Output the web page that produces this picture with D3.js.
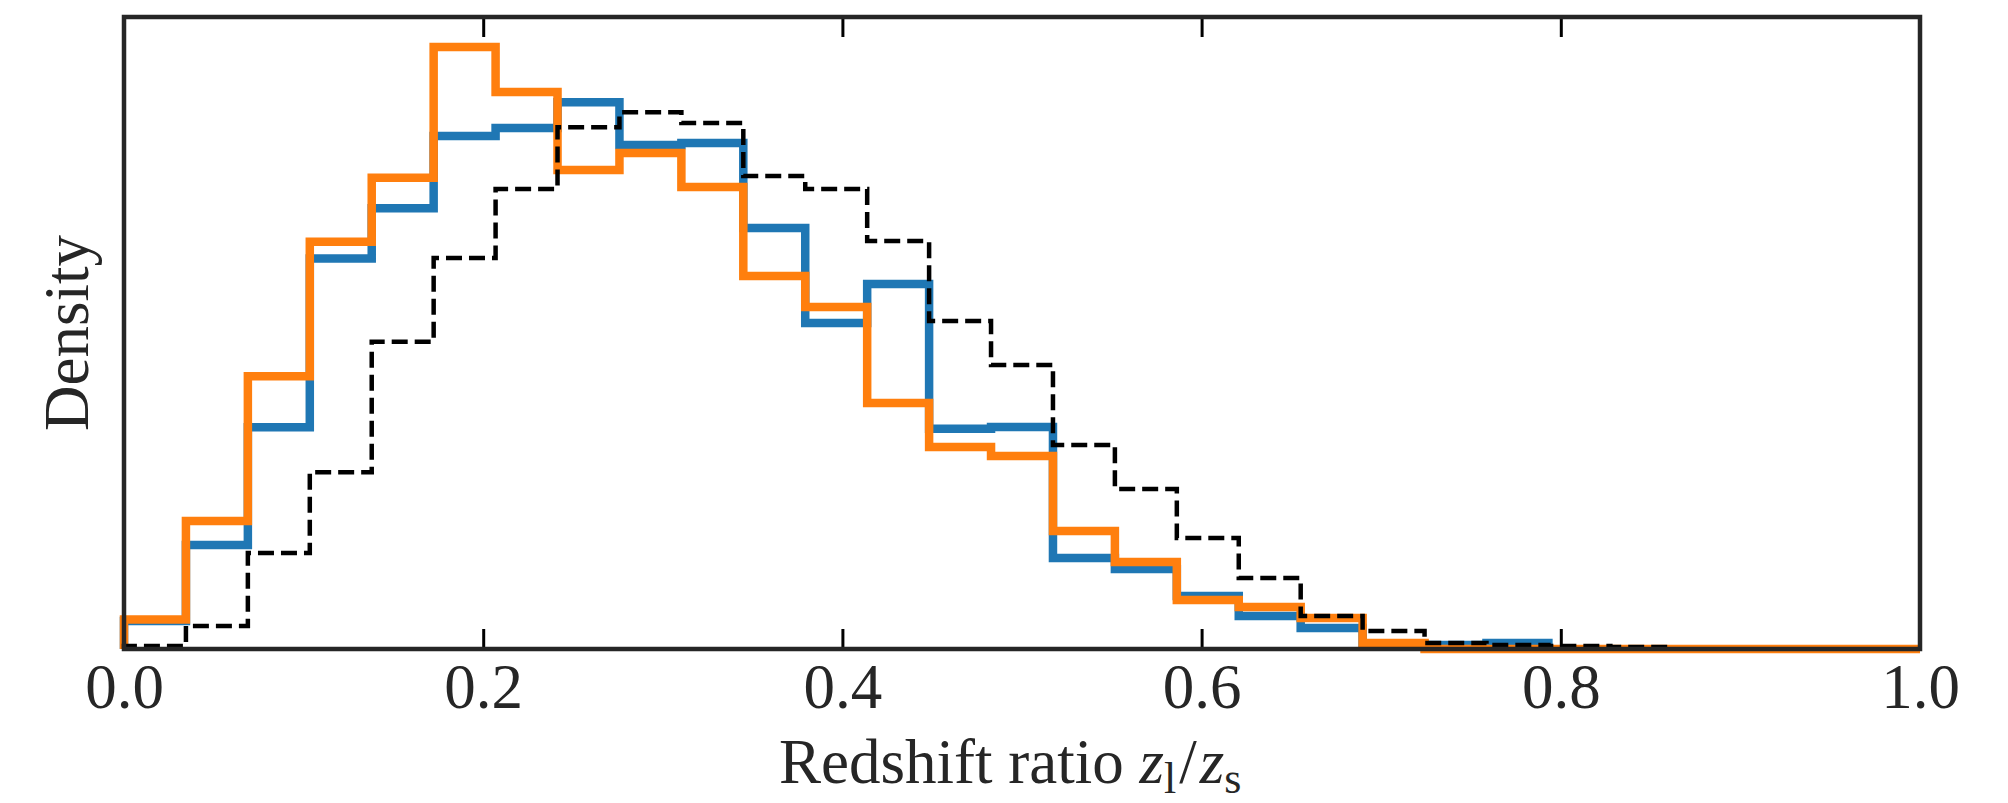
<!DOCTYPE html>
<html>
<head>
<meta charset="utf-8">
<script src="https://cdn.jsdelivr.net/npm/d3@7"></script>
<style>
  body { margin: 0; background: #ffffff; }
  svg text { font-family: "Liberation Serif", "DejaVu Serif", serif; fill: #262626; }
</style>
</head>
<body>
<svg id="chart" width="2008" height="803"></svg>
<script>
// histogram bins: 29 equal bins on [0, 1]
const nBins = 29;
const xTicks = [0.0, 0.2, 0.4, 0.6, 0.8, 1.0];

// density per bin
const blueDensity = [0.145, 0.540, 1.152, 2.030, 2.291, 2.666, 2.707, 2.842, 2.619, 2.629,
  2.188, 1.694, 1.897, 1.145, 1.154, 0.473, 0.416, 0.275, 0.171, 0.109,
  0.026, 0.021, 0.031];
const orangeDensity = [0.153, 0.665, 1.417, 2.116, 2.449, 3.128, 2.894, 2.489, 2.577, 2.401,
  1.938, 1.777, 1.278, 1.050, 1.003, 0.613, 0.452, 0.255, 0.218, 0.161,
  0.031, 0, 0, 0, 0, 0, 0, 0, 0];
const dashedDensity = [0.016, 0.120, 0.499, 0.919, 1.597, 2.032, 2.390, 2.712, 2.790, 2.733,
  2.458, 2.390, 2.120, 1.704, 1.476, 1.060, 0.831, 0.577, 0.369, 0.171,
  0.094, 0.031, 0.021, 0.016, 0.010];

const svg = d3.select("#chart");
const margin = {left: 124, right: 88, top: 17, bottom: 154};
const width = 2008, height = 803;

const x = d3.scaleLinear().domain([0, 1]).range([margin.left, width - margin.right]);
const yMax = d3.max([blueDensity, orangeDensity, dashedDensity].flat()) * 1.05;
const y = d3.scaleLinear().domain([0, yMax]).range([height - margin.bottom, margin.top]);

// build step outline like matplotlib histtype="step"
function stepPoints(vals) {
  const pts = [[0, 0]];
  vals.forEach((v, i) => {
    pts.push([i / nBins, v]);
    pts.push([(i + 1) / nBins, v]);
  });
  pts.push([vals.length / nBins, 0]);
  return pts;
}

const line = d3.line().x(d => x(d[0])).y(d => y(d[1]));

const series = [
  {vals: blueDensity, color: "#1f77b4", w: 8.5, dash: null},
  {vals: orangeDensity, color: "#ff7f0e", w: 8.5, dash: null},
  {vals: dashedDensity, color: "#000000", w: 4.5, dash: "16,7"}
];

svg.append("g").selectAll("path")
  .data(series)
  .join("path")
  .attr("d", d => line(stepPoints(d.vals)))
  .attr("fill", "none")
  .attr("stroke", d => d.color)
  .attr("stroke-width", d => d.w)
  .attr("stroke-linejoin", "miter")
  .attr("stroke-linecap", "butt")
  .attr("stroke-dasharray", d => d.dash);

// inward ticks on bottom and top
const tickLen = 20;
const xAxisBottom = d3.axisBottom(x).tickValues(xTicks).tickSizeInner(-tickLen).tickSizeOuter(0)
  .tickPadding(14).tickFormat(d3.format(".1f"));
const gb = svg.append("g")
  .attr("transform", `translate(0,${y(0)})`)
  .call(xAxisBottom);
gb.select(".domain").remove();
gb.selectAll(".tick line").attr("stroke", "#000").attr("stroke-width", 3);
gb.selectAll(".tick text")
  .attr("font-size", 63)
  .attr("font-family", "Liberation Serif")
  .attr("fill", "#262626");

const xAxisTop = d3.axisTop(x).tickValues(xTicks).tickSizeInner(-tickLen).tickSizeOuter(0).tickFormat("");
const gt = svg.append("g")
  .attr("transform", `translate(0,${y(yMax)})`)
  .call(xAxisTop);
gt.select(".domain").remove();
gt.selectAll(".tick line").attr("stroke", "#000").attr("stroke-width", 3);

// frame
svg.append("rect")
  .attr("x", x(0)).attr("y", y(yMax))
  .attr("width", x(1) - x(0)).attr("height", y(0) - y(yMax))
  .attr("fill", "none")
  .attr("stroke", "#262626")
  .attr("stroke-width", 4.5);

// axis labels
const xl = svg.append("text")
  .attr("x", 779).attr("y", 783)
  .attr("font-size", 63);
xl.append("tspan").text("Redshift ratio ");
xl.append("tspan").attr("font-style", "italic").text("z");
xl.append("tspan").attr("font-size", 44).attr("dy", 10).text("l");
xl.append("tspan").attr("dy", -10).attr("dx", 3).text("/");
xl.append("tspan").attr("font-style", "italic").attr("dx", 3).text("z");
xl.append("tspan").attr("font-size", 44).attr("dy", 10).text("s");

svg.append("text")
  .attr("transform", `translate(88,${(y(0) + y(yMax)) / 2}) rotate(-90)`)
  .attr("text-anchor", "middle")
  .attr("font-size", 63)
  .text("Density");
</script>
</body>
</html>
